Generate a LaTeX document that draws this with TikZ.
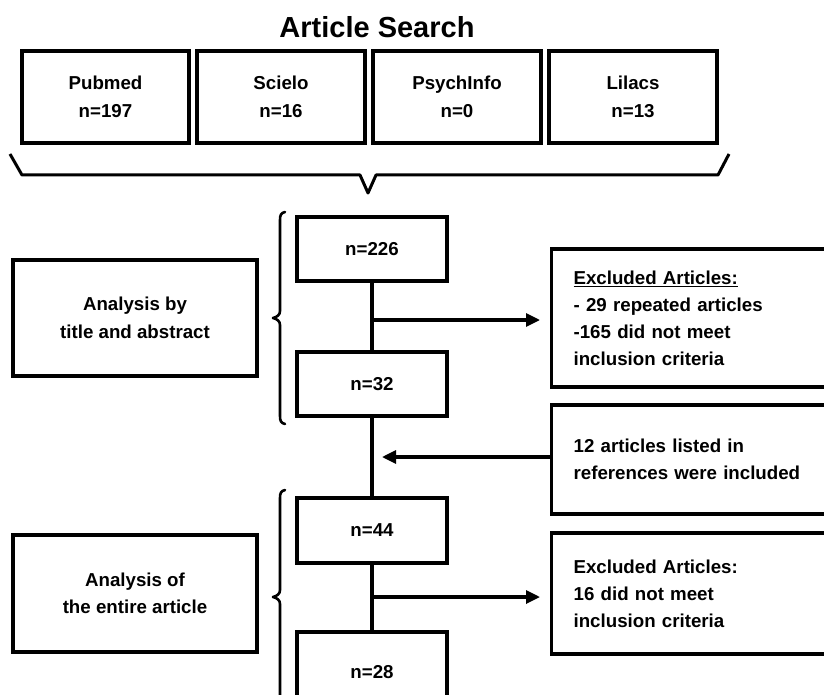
\documentclass[tikz,border=0pt]{standalone}
\usepackage{fontspec}
\setmainfont{Liberation Sans}
\usetikzlibrary{arrows.meta}
\begin{document}
\begin{tikzpicture}[x=1pt,y=-1pt,
  box/.style={draw=black, line width=3.2pt, inner sep=0pt, align=center,
    font=\bfseries\fontsize{18.7}{27.5}\selectfont},
  lbox/.style={draw=black, line width=3.2pt, inner xsep=22pt, inner ysep=0pt,
    text width=250pt, align=left, anchor=west,
    font=\bfseries\fontsize{18.7}{27}\selectfont},
  conn/.style={line width=3.2pt},
  arr/.style={line width=3.2pt, -{Triangle[length=14pt,width=13pt]}},
  brace/.style={line width=2.6pt, line cap=round, line join=round}]
\useasboundingbox (0,0) rectangle (824,695);
\clip (0,0) rectangle (824,695);

% title
\node[anchor=base, inner sep=0pt, font=\bfseries\fontsize{29}{34}\selectfont] (title) at (377,38) {Article Search};

% database boxes
\node[box, minimum width=167pt, minimum height=92pt] (pub) at (105.5,97) {Pubmed\\n=197};
\node[box, minimum width=168pt, minimum height=92pt] (sci) at (281,97) {Scielo\\n=16};
\node[box, minimum width=168pt, minimum height=92pt] (psy) at (457,97) {PsychInfo\\n=0};
\node[box, minimum width=168pt, minimum height=92pt] (lil) at (633,97) {Lilacs\\n=13};

% horizontal brace
\draw[line width=3pt, line join=round] (10,154) -- (22,175) -- (360,175) -- (368,193) -- (376,175) -- (718,175) -- (729,154);

% left stage boxes
\node[box, minimum width=244pt, minimum height=116pt] (an1) at (135,318) {Analysis by\\title and abstract};
\node[box, minimum width=244pt, minimum height=117pt] (an2) at (135,593.5) {Analysis of\\the entire article};

% vertical braces
\draw[brace] (285,212) .. controls (281,213) and (280,215) .. (280,220) -- (280,311)
  .. controls (280,315) and (277,317) .. (273,318) .. controls (277,319) and (280,321) .. (280,325)
  -- (280,416) .. controls (280,421) and (281,423) .. (285,424);
\draw[brace] (285,490) .. controls (281,491) and (280,493) .. (280,498) -- (280,590)
  .. controls (280,594) and (277,596) .. (273,597) .. controls (277,598) and (280,600) .. (280,604)
  -- (280,700);

% count boxes
\node[box, minimum width=150pt, minimum height=64pt] (n226) at (372,249) {n=226};
\node[box, minimum width=150pt, minimum height=64pt] (n32) at (372,384) {n=32};
\node[box, minimum width=150pt, minimum height=65pt] (n44) at (372,530.5) {n=44};
\node[box, minimum width=150pt, minimum height=80pt] (n28) at (372,672) {n=28};

% right boxes
\node[lbox, minimum height=138pt] (ex1) at (550,318) {\underline{Excluded Articles:}\\- 29 repeated articles\\-165 did not meet\\inclusion criteria};
\node[lbox, minimum height=109pt] (inc) at (550,459.5) {12 articles listed in\\references were included};
\node[lbox, minimum height=121pt] (ex2) at (550,593.5) {Excluded Articles:\\16 did not meet\\inclusion criteria};

% connectors
\draw[conn] (n226.south) -- (n32.north);
\draw[conn] (n32.south) -- (n44.north);
\draw[conn] (n44.south) -- (n28.north);

\coordinate (j1) at (372,320);
\coordinate (j2) at (372,457);
\coordinate (j3) at (372,597);
\draw[arr, shorten >=10pt] (j1) -- (j1 -| ex1.west);
\draw[arr, shorten >=10pt] (j2 -| inc.west) -- (j2);
\draw[arr, shorten >=10pt] (j3) -- (j3 -| ex2.west);
\end{tikzpicture}
\end{document}
